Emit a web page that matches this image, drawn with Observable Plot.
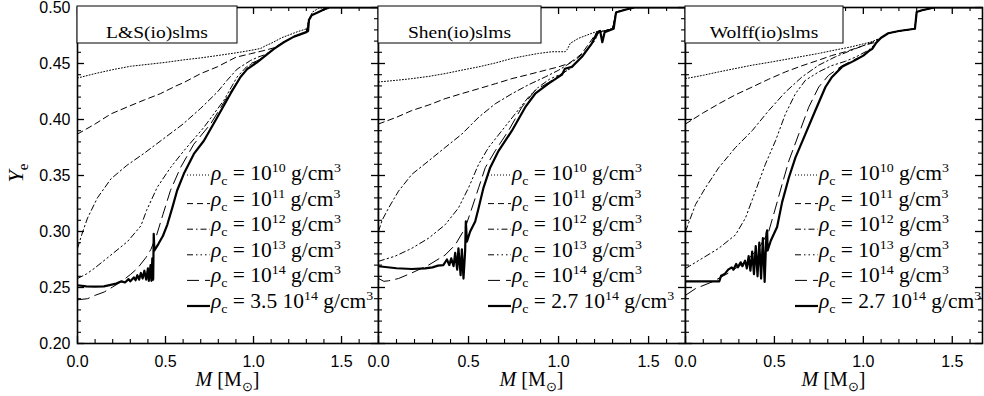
<!DOCTYPE html>
<html><head><meta charset="utf-8">
<script src="https://cdn.jsdelivr.net/npm/d3@7"></script>
<script src="https://cdn.jsdelivr.net/npm/@observablehq/plot@0.6"></script>
<style>
body{margin:0;background:#fff;}
#chart{position:relative;width:984px;height:396px;overflow:hidden;background:#fff;}
#chart svg{position:absolute;top:0;overflow:visible;}
</style></head><body><div id="chart"></div><script>
// ---------- data ----------
const panelTitles = ["L&S(io)slms", "Shen(io)slms", "Wolff(io)slms"];
const densityExponents = ["10", "11", "12", "13", "14", "14"];
const maxPrefactors = ["3.5", "2.7", "2.7"];
const xTickMajor = [0, 0.5, 1.0, 1.5];
const xTickMinor = [0.1,0.2,0.3,0.4,0.6,0.7,0.8,0.9,1.1,1.2,1.3,1.4,1.6];
const yTickMajor = [0.20,0.25,0.30,0.35,0.40,0.45,0.50];
const yTickMinor = [0.21,0.22,0.23,0.24,0.26,0.27,0.28,0.29,0.31,0.32,0.33,0.34,0.36,0.37,0.38,0.39,0.41,0.42,0.43,0.44,0.46,0.47,0.48,0.49];
const xMax = [1.71, 1.705, 1.67];

// L&S(io)slms
const ls10 = [[0,0.437],[0.1,0.441],[0.2,0.4445],[0.3,0.4475],[0.415,0.4495],[0.5,0.451],[0.6,0.4532],[0.7,0.455],[0.8,0.4572],[0.9,0.4595],[0.98,0.4616],[1.04,0.4634],[1.07,0.466],[1.1,0.468],[1.16,0.473],[1.25,0.4784],[1.31,0.4814],[1.32,0.491],[1.335,0.496],[1.37,0.4993],[1.42,0.5],[1.71,0.5]];
const ls11 = [[0,0.387],[0.1,0.396],[0.19,0.405],[0.28,0.411],[0.38,0.4175],[0.47,0.423],[0.56,0.430],[0.604,0.433],[0.7,0.441],[0.794,0.447],[0.9,0.4556],[0.983,0.4587],[1.06,0.4616],[1.116,0.464],[1.172,0.469],[1.23,0.474],[1.30,0.478],[1.315,0.489],[1.33,0.493],[1.37,0.496],[1.43,0.5],[1.71,0.5]];
const ls12 = [[0,0.285],[0.03,0.300],[0.057,0.312],[0.113,0.330],[0.19,0.347],[0.28,0.359],[0.38,0.370],[0.49,0.383],[0.6,0.396],[0.7,0.410],[0.794,0.4244],[0.85,0.435],[0.907,0.445],[0.983,0.4527],[1.03,0.456],[1.068,0.458],[1.116,0.463],[1.172,0.469],[1.23,0.474],[1.30,0.478],[1.315,0.489],[1.33,0.493],[1.37,0.496],[1.43,0.5],[1.71,0.5]];
const ls13 = [[0,0.258],[0.05,0.262],[0.095,0.267],[0.19,0.279],[0.284,0.291],[0.36,0.305],[0.393,0.319],[0.453,0.3395],[0.528,0.357],[0.604,0.372],[0.718,0.393],[0.831,0.417],[0.907,0.438],[0.96,0.447],[1.02,0.452],[1.068,0.457],[1.116,0.463],[1.172,0.469],[1.23,0.474],[1.30,0.478],[1.315,0.489],[1.33,0.493],[1.37,0.496],[1.43,0.5],[1.71,0.5]];
const ls14 = [[0,0.239],[0.057,0.240],[0.1,0.243],[0.152,0.246],[0.2,0.2505],[0.246,0.255],[0.3,0.2615],[0.34,0.267],[0.39,0.277],[0.417,0.284],[0.45,0.297],[0.485,0.315],[0.528,0.3366],[0.585,0.357],[0.661,0.378],[0.756,0.396],[0.85,0.42],[0.926,0.438],[0.985,0.450],[1.03,0.453],[1.068,0.457],[1.116,0.463],[1.172,0.469],[1.23,0.474],[1.30,0.478],[1.315,0.489],[1.33,0.493],[1.37,0.496],[1.43,0.5],[1.71,0.5]];
const lsMax = [[0,0.252],[0.05,0.251],[0.1,0.2508],[0.15,0.251],[0.22,0.2535],[0.25,0.2555],[0.27,0.2545],[0.29,0.2575],[0.30,0.2555],[0.32,0.259],[0.33,0.2565],[0.34,0.261],[0.35,0.257],[0.36,0.263],[0.37,0.258],[0.38,0.265],[0.39,0.257],[0.40,0.267],[0.405,0.256],[0.415,0.270],[0.42,0.256],[0.425,0.276],[0.43,0.257],[0.433,0.298],[0.437,0.283],[0.46,0.289],[0.485,0.296],[0.51,0.306],[0.54,0.322],[0.566,0.3366],[0.604,0.3515],[0.661,0.3693],[0.718,0.381],[0.794,0.402],[0.869,0.423],[0.926,0.438],[0.964,0.445],[1.02,0.451],[1.068,0.457],[1.116,0.463],[1.172,0.469],[1.23,0.474],[1.30,0.478],[1.31,0.479],[1.315,0.489],[1.33,0.493],[1.37,0.496],[1.41,0.499],[1.43,0.5],[1.71,0.5]];

// Shen(io)slms
const shen10 = [[0,0.4335],[0.1,0.435],[0.185,0.4365],[0.28,0.4385],[0.37,0.441],[0.46,0.444],[0.556,0.447],[0.65,0.4505],[0.741,0.4545],[0.82,0.457],[0.889,0.459],[0.963,0.4605],[1.037,0.4605],[1.05,0.463],[1.065,0.468],[1.111,0.4725],[1.185,0.477],[1.222,0.479],[1.25,0.479],[1.3,0.481],[1.32,0.496],[1.37,0.498],[1.42,0.5],[1.705,0.5]];
const shen11 = [[0,0.396],[0.1,0.402],[0.185,0.408],[0.28,0.413],[0.37,0.4186],[0.46,0.423],[0.556,0.4275],[0.65,0.432],[0.741,0.4365],[0.83,0.440],[0.926,0.444],[1.0,0.447],[1.056,0.450],[1.1,0.455],[1.13,0.459],[1.17,0.468],[1.2,0.475],[1.22,0.479],[1.25,0.479],[1.3,0.481],[1.32,0.496],[1.37,0.498],[1.42,0.5],[1.705,0.5]];
const shen12 = [[0,0.300],[0.02,0.310],[0.056,0.321],[0.111,0.336],[0.185,0.351],[0.278,0.363],[0.37,0.375],[0.463,0.387],[0.556,0.402],[0.648,0.414],[0.741,0.423],[0.833,0.431],[0.926,0.438],[1.0,0.444],[1.04,0.448],[1.1,0.454],[1.15,0.461],[1.2,0.470],[1.22,0.477],[1.25,0.479],[1.3,0.481],[1.32,0.496],[1.37,0.498],[1.42,0.5],[1.705,0.5]];
const shen13 = [[0,0.2734],[0.093,0.278],[0.185,0.285],[0.278,0.294],[0.37,0.306],[0.444,0.321],[0.5,0.339],[0.556,0.360],[0.611,0.375],[0.685,0.390],[0.759,0.405],[0.833,0.420],[0.889,0.429],[0.95,0.436],[1.02,0.441],[1.07,0.446],[1.13,0.456],[1.19,0.469],[1.21,0.477],[1.25,0.479],[1.3,0.481],[1.32,0.496],[1.37,0.498],[1.42,0.5],[1.705,0.5]];
const shen14 = [[0,0.258],[0.03,0.2555],[0.056,0.256],[0.111,0.258],[0.185,0.263],[0.278,0.270],[0.37,0.279],[0.426,0.288],[0.481,0.303],[0.519,0.321],[0.556,0.339],[0.593,0.357],[0.648,0.372],[0.722,0.390],[0.796,0.411],[0.87,0.426],[0.944,0.433],[1.02,0.441],[1.07,0.446],[1.13,0.456],[1.19,0.469],[1.21,0.477],[1.25,0.479],[1.3,0.481],[1.32,0.496],[1.37,0.498],[1.42,0.5],[1.705,0.5]];
const shenMax = [[0,0.269],[0.1,0.2672],[0.185,0.2665],[0.259,0.267],[0.3,0.268],[0.33,0.2695],[0.36,0.270],[0.38,0.275],[0.393,0.270],[0.404,0.276],[0.417,0.269],[0.426,0.281],[0.437,0.266],[0.444,0.285],[0.456,0.261],[0.463,0.284],[0.472,0.258],[0.481,0.282],[0.485,0.309],[0.491,0.291],[0.509,0.300],[0.537,0.309],[0.556,0.321],[0.583,0.339],[0.62,0.357],[0.667,0.372],[0.741,0.390],[0.815,0.411],[0.87,0.423],[0.944,0.432],[1.019,0.440],[1.035,0.4453],[1.074,0.447],[1.13,0.456],[1.185,0.468],[1.213,0.477],[1.231,0.479],[1.243,0.469],[1.256,0.478],[1.306,0.481],[1.319,0.4955],[1.37,0.498],[1.42,0.5],[1.705,0.5]];

// Wolff(io)slms
const wolff10 = [[0,0.4365],[0.1,0.4395],[0.187,0.4425],[0.28,0.4455],[0.375,0.4485],[0.47,0.451],[0.562,0.4536],[0.655,0.4563],[0.749,0.459],[0.84,0.462],[0.936,0.465],[1.049,0.4695],[1.1,0.473],[1.14,0.477],[1.2,0.479],[1.29,0.481],[1.3,0.496],[1.33,0.4975],[1.4,0.5],[1.67,0.5]];
const wolff11 = [[0,0.396],[0.1,0.406],[0.187,0.414],[0.28,0.422],[0.375,0.429],[0.468,0.436],[0.562,0.4425],[0.655,0.448],[0.749,0.453],[0.82,0.457],[0.899,0.4605],[1.011,0.4665],[1.07,0.469],[1.1,0.473],[1.14,0.477],[1.2,0.479],[1.29,0.481],[1.3,0.496],[1.33,0.4975],[1.4,0.5],[1.67,0.5]];
const wolff12 = [[0,0.300],[0.028,0.312],[0.056,0.324],[0.112,0.339],[0.187,0.357],[0.281,0.375],[0.375,0.390],[0.468,0.408],[0.562,0.4245],[0.655,0.438],[0.749,0.4485],[0.843,0.456],[0.936,0.462],[1.0,0.466],[1.05,0.469],[1.1,0.473],[1.14,0.477],[1.2,0.479],[1.29,0.481],[1.3,0.496],[1.33,0.4975],[1.4,0.5],[1.67,0.5]];
const wolff13 = [[0,0.267],[0.094,0.276],[0.187,0.285],[0.281,0.297],[0.337,0.312],[0.393,0.336],[0.449,0.360],[0.506,0.381],[0.562,0.405],[0.618,0.423],[0.674,0.435],[0.749,0.4425],[0.82,0.448],[0.9,0.452],[0.96,0.456],[1.03,0.462],[1.07,0.468],[1.1,0.473],[1.14,0.477],[1.2,0.479],[1.29,0.481],[1.3,0.496],[1.33,0.4975],[1.4,0.5],[1.67,0.5]];
const wolff14 = [[0,0.243],[0.056,0.249],[0.15,0.255],[0.243,0.263],[0.337,0.273],[0.412,0.285],[0.468,0.300],[0.506,0.321],[0.543,0.342],[0.581,0.363],[0.637,0.387],[0.693,0.411],[0.749,0.429],[0.805,0.4395],[0.88,0.448],[0.955,0.454],[1.0,0.457],[1.05,0.463],[1.07,0.468],[1.1,0.473],[1.14,0.477],[1.2,0.479],[1.29,0.481],[1.3,0.496],[1.33,0.4975],[1.4,0.5],[1.67,0.5]];
const wolffMax = [[0,0.2555],[0.19,0.2555],[0.2,0.2605],[0.22,0.262],[0.24,0.266],[0.26,0.268],[0.27,0.266],[0.285,0.271],[0.295,0.268],[0.31,0.2725],[0.32,0.269],[0.335,0.274],[0.345,0.267],[0.355,0.278],[0.365,0.265],[0.375,0.282],[0.385,0.262],[0.395,0.287],[0.405,0.260],[0.415,0.290],[0.425,0.258],[0.435,0.294],[0.445,0.255],[0.455,0.298],[0.459,0.301],[0.462,0.283],[0.48,0.292],[0.515,0.304],[0.543,0.326],[0.581,0.348],[0.618,0.366],[0.674,0.387],[0.73,0.408],[0.787,0.429],[0.824,0.438],[0.88,0.447],[0.955,0.453],[1.0,0.457],[1.03,0.461],[1.05,0.463],[1.07,0.468],[1.1,0.473],[1.14,0.477],[1.2,0.479],[1.29,0.481],[1.3,0.496],[1.33,0.4975],[1.4,0.5],[1.67,0.5]];

const panelSeries = [
  [ls10, ls11, ls12, ls13, ls14, lsMax],
  [shen10, shen11, shen12, shen13, shen14, shenMax],
  [wolff10, wolff11, wolff12, wolff13, wolff14, wolffMax]
];

// ---------- styles / layout ----------
const lineStyles = [
  {dash: "1,2", w: 1},
  {dash: "6,4", w: 1},
  {dash: "6,3,1.5,3", w: 1},
  {dash: "6,3,1.5,3,1.5,3,1.5,3", w: 1},
  {dash: "12,6", w: 1},
  {dash: null, w: 2.2}
];
const H = 396, MT = 7, MB = 53;
const frameH = H - MT - MB;
const svgLeft = [0, 378, 685];
const svgW = [378, 307, 299];
const mL = [77, 0, 0];
const mR = [0, 0, 2];
const boxW = [160, 163, 158];
const serif = "Liberation Serif";
const sans = "Liberation Sans";

const chart = document.getElementById("chart");
const svgs = [];
for (let i = 0; i < 3; i++) {
  const W = svgW[i] - mL[i] - mR[i];
  const marks = [
    Plot.ruleX(xTickMajor, {insetTop: frameH - 7, strokeWidth: 1.3}),
    Plot.ruleX(xTickMajor, {insetBottom: frameH - 7, strokeWidth: 1.3}),
    Plot.ruleX(xTickMinor.filter(v => v < xMax[i]), {insetTop: frameH - 4, strokeWidth: 1.1}),
    Plot.ruleX(xTickMinor.filter(v => v < xMax[i]), {insetBottom: frameH - 4, strokeWidth: 1.1}),
    Plot.ruleY(yTickMajor, {insetRight: W - 7, strokeWidth: 1.3}),
    Plot.ruleY(yTickMajor, {insetLeft: W - 7, strokeWidth: 1.3}),
    Plot.ruleY(yTickMinor, {insetRight: W - 4, strokeWidth: 1.1}),
    Plot.ruleY(yTickMinor, {insetLeft: W - 4, strokeWidth: 1.1}),
    ...panelSeries[i].map((data, k) => Plot.line(data, {
      x: d => d[0], y: d => d[1], stroke: "black",
      strokeWidth: lineStyles[k].w,
      strokeDasharray: lineStyles[k].dash,
      clip: true
    })),
    Plot.frame({stroke: "black", strokeWidth: 1.6}),
    Plot.axisX({ticks: xTickMajor, tickSize: 0, tickPadding: 12, tickFormat: d3.format(".1f"), label: null, fontSize: 16, fontFamily: sans})
  ];
  if (i === 0) marks.push(Plot.axisY({ticks: yTickMajor, tickSize: 0, tickPadding: 7, tickFormat: d3.format(".2f"), label: null, fontSize: 16, fontFamily: sans}));
  const svg = Plot.plot({
    width: svgW[i], height: H,
    marginLeft: mL[i], marginRight: mR[i], marginTop: MT, marginBottom: MB,
    x: {domain: [0, xMax[i]], axis: null},
    y: {domain: [0.2, 0.5], axis: i === 0 ? undefined : null},
    style: {fontFamily: sans, fontSize: "16px", color: "black", overflow: "visible", background: "white"},
    marks
  });
  svg.style.left = svgLeft[i] + "px";
  chart.appendChild(svg);
  svgs.push({svg, W});
}

// ---------- annotations ----------
function rhoText(t, pre, exp) {
  t.append("tspan").attr("font-style", "italic").text("\u03c1");
  t.append("tspan").attr("font-size", "13px").attr("dy", 5).text("c");
  t.append("tspan").attr("dy", -5).text(" = " + (pre ? pre + " " : "") + "10");
  t.append("tspan").attr("font-size", "13px").attr("dy", -8).text(exp);
  t.append("tspan").attr("dy", 8).text(" g/cm");
  t.append("tspan").attr("font-size", "13px").attr("dy", -8).text("3");
}

let legendScale = 1, titleScale = 1;
svgs.forEach(({svg, W}, i) => {
  const s = d3.select(svg);
  const x0 = mL[i];
  // title box
  s.append("rect").attr("x", x0).attr("y", MT - 1).attr("width", boxW[i]).attr("height", 37)
    .attr("fill", "white").attr("stroke", "black").attr("stroke-width", 1);
  const tg = s.append("g").attr("class", "title-g").attr("data-cx", x0 + boxW[i] / 2);
  tg.append("text").attr("text-anchor", "middle").style("font-family", serif)
    .style("font-size", "17.5px").attr("fill", "black").text(panelTitles[i]);
  // legend
  for (let r = 0; r < 6; r++) {
    const base = 180 + r * 25.6;
    const ly = r === 0 ? base - 5 : base - 2;
    s.append("line").attr("x1", x0 + 110).attr("x2", x0 + 133).attr("y1", ly).attr("y2", ly)
      .attr("stroke", "black").attr("stroke-width", lineStyles[r].w)
      .attr("stroke-dasharray", lineStyles[r].dash);
    const g = s.append("g").attr("class", "leg-g").attr("data-x", x0 + 134).attr("data-y", base);
    const t = g.append("text").attr("text-anchor", "start").style("font-family", serif).style("font-size", "20px")
      .attr("fill", "black").style("white-space", "pre");
    rhoText(t, r === 5 ? maxPrefactors[i] : "", densityExponents[r]);
  }
  // x label
  const xl = s.append("text").attr("x", x0 + W / 2).attr("y", 386).attr("text-anchor", "middle")
    .style("font-family", serif).style("font-size", "20px").attr("fill", "black").style("white-space", "pre");
  xl.append("tspan").attr("font-style", "italic").text("M");
  xl.append("tspan").text(" [M");
  xl.append("tspan").attr("font-size", "13px").attr("dy", 5).text("\u2299");
  xl.append("tspan").attr("dy", -5).text("]");
  if (i === 0) {
    const yl = s.append("text").attr("transform", "translate(23,173) rotate(-90)").attr("text-anchor", "middle")
      .style("font-family", serif).style("font-size", "22px").attr("fill", "black");
    yl.append("tspan").attr("font-style", "italic").text("Y");
    yl.append("tspan").attr("font-size", "15px").attr("dy", 5).text("e");
  }
});

// fit widths to reference proportions
const firstLeg = svgs[0].svg.querySelector(".leg-g text");
const lw = firstLeg.getComputedTextLength();
if (lw > 0) legendScale = Math.max(0.9, Math.min(1.3, 130 / lw));
const firstTitle = svgs[0].svg.querySelector(".title-g text");
const tw = firstTitle.getComputedTextLength();
if (tw > 0) titleScale = Math.max(0.9, Math.min(1.3, 102 / tw));
svgs.forEach(({svg}) => {
  d3.select(svg).selectAll(".leg-g").each(function() {
    const g = d3.select(this);
    g.attr("transform", `translate(${g.attr("data-x")},${g.attr("data-y")}) scale(${legendScale},1)`);
  });
  d3.select(svg).selectAll(".title-g").each(function() {
    const g = d3.select(this);
    g.attr("transform", `translate(${g.attr("data-cx")},38) scale(${titleScale},1)`);
  });
});
</script></body></html>
